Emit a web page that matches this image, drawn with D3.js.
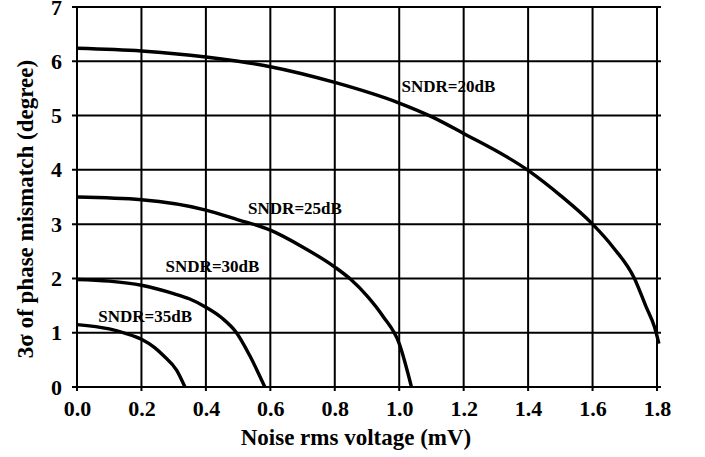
<!DOCTYPE html>
<html>
<head>
<meta charset="utf-8">
<script src="https://cdn.jsdelivr.net/npm/d3@7"></script>
<style>
  html, body { margin: 0; padding: 0; background: #fff; }
  text { font-family: "Liberation Serif", "Times New Roman", serif; font-weight: 700; fill: #000; }
</style>
</head>
<body>
<div id="chart"></div>
<script>
// Noise rms voltage (mV) and 3-sigma phase mismatch (degree)
const noise20 = [0, 0.2, 0.4, 0.5, 0.6, 0.8, 1.0, 1.1, 1.2, 1.4, 1.5, 1.6, 1.663, 1.73, 1.766, 1.792, 1.806];
const phase20 = [6.24, 6.19, 6.08, 6.0, 5.9, 5.61, 5.23, 4.98, 4.67, 3.99, 3.53, 3.0, 2.58, 2.0, 1.48, 1.11, 0.80];

const noise25 = [0, 0.2, 0.4, 0.5, 0.6, 0.7, 0.8, 0.85, 0.9, 0.95, 1.0, 1.038];
const phase25 = [3.50, 3.45, 3.26, 3.08, 2.89, 2.58, 2.21, 1.98, 1.68, 1.30, 0.80, 0];

const noise30 = [0, 0.1, 0.2, 0.3, 0.35, 0.4, 0.45, 0.495, 0.536, 0.583];
const phase30 = [1.98, 1.95, 1.875, 1.72, 1.62, 1.47, 1.27, 1.0, 0.58, 0];

const noise35 = [0, 0.1, 0.15, 0.2, 0.24, 0.268, 0.309, 0.335];
const phase35 = [1.15, 1.07, 0.99, 0.88, 0.73, 0.58, 0.31, 0];

const seriesNames = ["SNDR=20dB", "SNDR=25dB", "SNDR=30dB", "SNDR=35dB"];
// where each curve label sits, in data units (left edge, baseline)
const labelNoise = [1.007, 0.531, 0.275, 0.066];
const labelPhase = [5.44, 3.18, 2.12, 1.20];

const xTicks = [0, 0.2, 0.4, 0.6, 0.8, 1.0, 1.2, 1.4, 1.6, 1.8];
const yTicks = [0, 1, 2, 3, 4, 5, 6, 7];

const width = 705, height = 457;
const margin = { top: 7, right: 48, bottom: 70, left: 77 };
const innerW = width - margin.left - margin.right;
const innerH = height - margin.top - margin.bottom;

const svg = d3.select("#chart").append("svg")
  .attr("width", width)
  .attr("height", height);

const g = svg.append("g")
  .attr("transform", `translate(${margin.left},${margin.top})`);

const x = d3.scaleLinear().domain([0, 1.8]).range([0, innerW]);
const y = d3.scaleLinear().domain([0, 7]).range([innerH, 0]);

// horizontal grid (sticks out a little on both sides, like the original)
g.append("g")
  .selectAll("line")
  .data(yTicks)
  .join("line")
  .attr("x1", -5)
  .attr("x2", innerW + 4)
  .attr("y1", d => y(d))
  .attr("y2", d => y(d))
  .attr("stroke", "#000")
  .attr("stroke-width", 2);

// vertical grid
g.append("g")
  .selectAll("line")
  .data(xTicks)
  .join("line")
  .attr("x1", d => x(d))
  .attr("x2", d => x(d))
  .attr("y1", 0)
  .attr("y2", innerH + 4)
  .attr("stroke", "#000")
  .attr("stroke-width", 2);

// axes for the labels
g.append("g")
  .attr("transform", `translate(0,${innerH})`)
  .call(d3.axisBottom(x).tickValues(xTicks).tickFormat(d3.format(".1f")).tickSize(0).tickPadding(13))
  .call(a => a.select(".domain").remove())
  .selectAll("text")
  .style("font-family", "'Liberation Serif', serif")
  .style("font-weight", "700")
  .style("font-size", "22px")
  .attr("fill", "#000");

g.append("g")
  .call(d3.axisLeft(y).tickValues(yTicks).tickFormat(d3.format("d")).tickSize(0).tickPadding(15))
  .call(a => a.select(".domain").remove())
  .selectAll("text")
  .style("font-family", "'Liberation Serif', serif")
  .style("font-weight", "700")
  .style("font-size", "22px")
  .attr("fill", "#000");

// curves
const noiseSets = [noise20, noise25, noise30, noise35];
const phaseSets = [phase20, phase25, phase30, phase35];

const line = d3.line()
  .x(d => x(d[0]))
  .y(d => y(d[1]))
  .curve(d3.curveMonotoneX);

noiseSets.forEach((xs, i) => {
  const pts = xs.map((v, j) => [v, phaseSets[i][j]]);
  g.append("path")
    .datum(pts)
    .attr("fill", "none")
    .attr("stroke", "#000")
    .attr("stroke-width", 3.4)
    .attr("stroke-linejoin", "round")
    .attr("d", line);
});

// curve labels
seriesNames.forEach((name, i) => {
  g.append("text")
    .attr("x", x(labelNoise[i]))
    .attr("y", y(labelPhase[i]))
    .attr("font-size", "17px")
    .text(name);
});

// axis titles
svg.append("text")
  .attr("x", 356)
  .attr("y", 445)
  .attr("text-anchor", "middle")
  .attr("font-size", "23px")
  .text("Noise rms voltage (mV)");

svg.append("text")
  .attr("transform", "rotate(-90)")
  .attr("x", -209)
  .attr("y", 33)
  .attr("text-anchor", "middle")
  .attr("font-size", "23px")
  .text("3σ of phase mismatch (degree)");
</script>
</body>
</html>
